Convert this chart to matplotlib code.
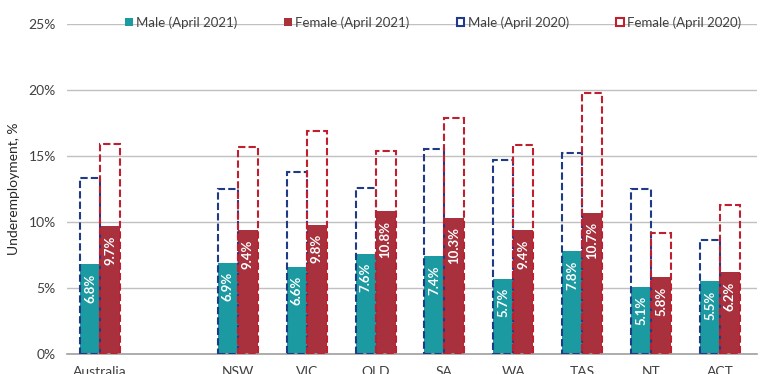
import numpy as np
import matplotlib.pyplot as plt
from matplotlib.patches import Patch

plt.rcParams['font.family'] = ['Lato', 'DejaVu Sans']

regions = ['Australia', '', 'NSW', 'VIC', 'QLD', 'SA', 'WA', 'TAS', 'NT', 'ACT']
slots = [0, 2, 3, 4, 5, 6, 7, 8, 9]
male_2021 = [6.8, 6.9, 6.6, 7.6, 7.4, 5.7, 7.8, 5.1, 5.5]
female_2021 = [9.7, 9.4, 9.8, 10.8, 10.3, 9.4, 10.7, 5.8, 6.2]
male_2020 = [13.3, 12.5, 13.8, 12.6, 15.5, 14.7, 15.2, 12.5, 8.6]
female_2020 = [15.9, 15.7, 16.9, 15.4, 17.9, 15.8, 19.8, 9.2, 11.3]

c_male = '#1b9aa1'
c_female = '#a8313d'
c_male_line = '#1f3a86'
c_female_line = '#c01f2f'

fig = plt.figure(figsize=(7.61, 3.74), dpi=100)
ax = fig.add_axes([0.088, 0.0535, 0.907, 0.8825])

x = np.array(slots, dtype=float)
w = 0.29
dash = (0, (3.5, 1.5))

ax.bar(x - w/2, male_2021, w, color=c_male, zorder=2)
ax.bar(x + w/2, female_2021, w, color=c_female, zorder=2)
ax.bar(x - w/2, male_2020, w, facecolor='none', edgecolor=c_male_line,
       linewidth=1.5, linestyle=dash, zorder=3)
ax.bar(x + w/2, female_2020, w, facecolor='none', edgecolor=c_female_line,
       linewidth=1.5, linestyle=dash, zorder=3)

# value labels inside the 2021 bars
for xi, m, f in zip(x, male_2021, female_2021):
    ax.text(xi - w/2, m - 0.7, '%.1f%%' % m, rotation=90, ha='center', va='top',
            color='white', fontsize=9.5, fontweight='bold', zorder=4)
    ax.text(xi + w/2, f - 0.7, '%.1f%%' % f, rotation=90, ha='center', va='top',
            color='white', fontsize=9.5, fontweight='bold', zorder=4)

ax.set_xlim(-0.48, 9.54)
ax.set_ylim(0, 25)
ax.set_yticks(np.arange(0, 26, 5))
ax.set_yticklabels(['%d%%' % v for v in range(0, 26, 5)])
ax.set_xticks(range(len(regions)))
ax.set_xticklabels(regions)
ax.tick_params(length=0, labelsize=10, labelcolor='#404040')
ax.tick_params(axis='x', pad=9)
ax.tick_params(axis='y', pad=8)
ax.grid(axis='y', color='#c0c0c0', linewidth=1, zorder=0)
ax.set_axisbelow(True)
for s in ['top', 'right', 'left']:
    ax.spines[s].set_visible(False)
ax.spines['bottom'].set_color('#a0a0a0')
ax.spines['bottom'].set_linewidth(1.2)
ax.set_ylabel('Underemployment, %', fontsize=10, color='#262626')
ax.yaxis.set_label_coords(-0.068, 0.5)

handles = [Patch(facecolor=c_male, edgecolor='none'),
           Patch(facecolor=c_female, edgecolor='none'),
           Patch(facecolor='white', edgecolor=c_male_line, linewidth=1.5),
           Patch(facecolor='white', edgecolor=c_female_line, linewidth=1.5)]
labels = ['Male (April 2021)', 'Female (April 2021)', 'Male (April 2020)',
          'Female (April 2020)']
fig.legend(handles, labels, loc='center', bbox_to_anchor=(0.569, 0.94), ncol=4,
           frameon=False, fontsize=9.5, handlelength=0.6, handleheight=0.6,
           handletextpad=0.25, columnspacing=3.55, labelcolor='#404040')

fig.savefig('out.png', dpi=100)
